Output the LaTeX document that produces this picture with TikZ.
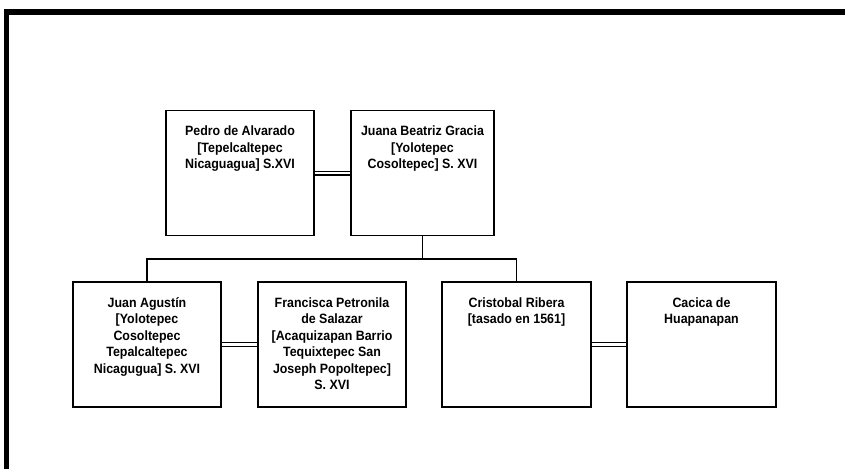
\documentclass[tikz,border=0pt]{standalone}
\usepackage{fontspec}
\newfontfamily\famfont{Liberation Sans Bold}[FakeStretch=0.92]
\tikzset{
    person/.style={draw, line width=1.5pt, inner sep=0pt, minimum height=125pt},
    persontext/.style={anchor=north, align=center, inner sep=0pt, yshift=-16pt,
        font=\famfont\fontsize{13.5}{16.5}\selectfont},
    couple/.style={double, double distance=2.2pt, line width=1.4pt},
    kin/.style={line width=1.4pt}
}
\begin{document}
\begin{tikzpicture}[x=1pt, y=-1pt]
    \useasboundingbox (0,0) rectangle (845,469);

    % page frame (top and left edges only)
    \fill (4,9) rectangle (845,15);
    \fill (4,9) rectangle (9,469);

    % parents
    \node[person, minimum width=148pt] (pedro) at (240,173) {};
    \node[person, minimum width=143pt] (juana) at (422.5,173) {};
    \node[persontext] (pedro-t) at (pedro.north) {Pedro de Alvarado\\{[}Tepelcaltepec\\Nicaguagua] S.XVI};
    \node[persontext] (juana-t) at (juana.north) {Juana Beatriz Gracia\\{[}Yolotepec\\Cosoltepec] S. XVI};
    \draw[couple] (pedro) -- (juana);

    % children and their spouses
    \node[person, minimum width=148pt] (juan) at (147,344.5) {};
    \node[person, minimum width=148pt] (francisca) at (332,344.5) {};
    \node[person, minimum width=149pt] (cristobal) at (516.5,344.5) {};
    \node[person, minimum width=149pt] (cacica) at (701.5,344.5) {};
    \node[persontext] (juan-t) at (juan.north) {Juan Agust\'in\\{[}Yolotepec\\Cosoltepec\\Tepalcaltepec\\Nicagugua] S. XVI};
    \node[persontext] (francisca-t) at (francisca.north) {Francisca Petronila\\de Salazar\\{[}Acaquizapan Barrio\\Tequixtepec San\\Joseph Popoltepec]\\S. XVI};
    \node[persontext] (cristobal-t) at (cristobal.north) {Cristobal Ribera\\{[}tasado en 1561]};
    \node[persontext] (cacica-t) at (cacica.north) {Cacica de\\Huapanapan};
    \draw[couple] (juan) -- (francisca);
    \draw[couple] (cristobal) -- (cacica);

    % descent lines
    \coordinate (bus) at (0,259);
    \draw[kin] (juana.south) -- (juana.south |- bus);
    \draw[kin] (juan.north) |- (bus -| cristobal.north) -- (cristobal.north);
\end{tikzpicture}
\end{document}
